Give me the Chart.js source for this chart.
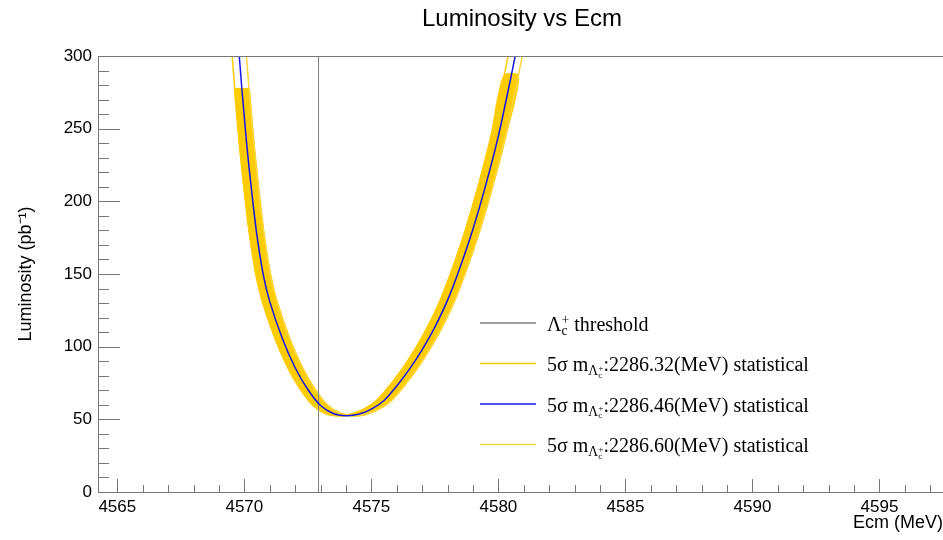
<!DOCTYPE html>
<html lang="en">
<head>
<meta charset="UTF-8">
<title>Luminosity vs Ecm</title>
<script src="https://cdn.jsdelivr.net/npm/chart.js"></script>
<style>
  html, body { margin: 0; padding: 0; background: #fff; }
  canvas { display: block; }
</style>
</head>
<body>
<canvas id="lumiChart" width="943" height="540"></canvas>
<script>
    // luminosity (pb^-1) at each point of the curves, same for the three mass hypotheses
    const lumi = [300, 287, 278, 268, 238, 205, 176, 149, 131, 105.5, 85.5, 70.5, 59.5, 54, 52.5,
                  53.5, 57, 63, 73, 84.5, 98, 113.5, 132, 155, 181, 211, 245, 286, 300];

    // Ecm (MeV) for m = 2286.46
    const ecmMid = [4569.80, 4569.86, 4569.90, 4569.95, 4570.10, 4570.30, 4570.50, 4570.75, 4571.00, 4571.50,
                    4572.00, 4572.50, 4573.00, 4573.50, 4574.00, 4574.50, 4575.00, 4575.50, 4576.00, 4576.50,
                    4577.00, 4577.50, 4578.00, 4578.50, 4579.00, 4579.50, 4580.00, 4580.50, 4580.66];
    // Ecm (MeV) for m = 2286.32
    const ecmLow = [4569.52, 4569.58, 4569.62, 4569.67, 4569.82, 4570.02, 4570.22, 4570.47, 4570.72, 4571.22,
                    4571.72, 4572.22, 4572.72, 4573.22, 4573.72, 4574.22, 4574.72, 4575.22, 4575.72, 4576.22,
                    4576.72, 4577.22, 4577.72, 4578.22, 4578.72, 4579.22, 4579.72, 4580.22, 4580.38];
    // Ecm (MeV) for m = 2286.60
    const ecmHigh = [4570.08, 4570.14, 4570.18, 4570.23, 4570.38, 4570.58, 4570.78, 4571.03, 4571.28, 4571.78,
                     4572.28, 4572.78, 4573.28, 4573.78, 4574.28, 4574.78, 4575.28, 4575.78, 4576.28, 4576.78,
                     4577.28, 4577.78, 4578.28, 4578.78, 4579.28, 4579.78, 4580.28, 4580.78, 4580.94];

    // the statistical band only covers these points of the curves
    const bandFirst = 2;
    const bandLast = 27;

    const thresholdEcm = 4572.92;

    const legendLabels = [
        'Λ_{c}^{+} threshold',
        '5σ m_{Λ_{c}^{+}}:2286.32(MeV) statistical',
        '5σ m_{Λ_{c}^{+}}:2286.46(MeV) statistical',
        '5σ m_{Λ_{c}^{+}}:2286.60(MeV) statistical'
    ];

    const xTicks = { min: 4564.24, max: 4597.5, step: 5, minor: 1 };
    const yTicks = { min: 0, max: 300, step: 50, minor: 10 };

    function pontos(xs) {
        return xs.map((x, i) => ({ x: x, y: lumi[i] }));
    }

    // banda = curva baixa e depois a alta de volta, fechando o contorno
    const banda = pontos(ecmLow).slice(bandFirst, bandLast + 1)
        .concat(pontos(ecmHigh).slice(bandFirst, bandLast + 1).reverse());

    // texto tipo TLatex: _{..} subscrito, ^{..} sobrescrito
    function parseRich(s) {
        const nodes = [];
        let buf = '';
        for (let i = 0; i < s.length; i++) {
            const ch = s[i];
            if ((ch === '_' || ch === '^') && s[i + 1] === '{') {
                if (buf) { nodes.push({ text: buf }); buf = ''; }
                let depth = 0, j = i + 1;
                for (; j < s.length; j++) {
                    if (s[j] === '{') depth++;
                    else if (s[j] === '}' && --depth === 0) break;
                }
                nodes.push({ kind: ch, children: parseRich(s.slice(i + 2, j)) });
                i = j;
            } else {
                buf += ch;
            }
        }
        if (buf) nodes.push({ text: buf });
        return nodes;
    }

    function drawRich(ctx, nodes, x, y, size) {
        let cx = x;
        for (let i = 0; i < nodes.length; i++) {
            const n = nodes[i];
            if (n.text !== undefined) {
                ctx.font = size + 'px "Liberation Serif", "DejaVu Serif", serif';
                ctx.fillText(n.text, cx, y);
                cx += ctx.measureText(n.text).width;
                continue;
            }
            const small = size * 0.68;
            const dy = k => (k === '_' ? size * 0.2 : -size * 0.32);
            let w = drawRich(ctx, n.children, cx, y + dy(n.kind), small);
            const next = nodes[i + 1];
            if (next && next.kind && next.kind !== n.kind) {
                // sub e sup empilhados
                w = Math.max(w, drawRich(ctx, next.children, cx, y + dy(next.kind), small));
                i++;
            }
            cx += w;
        }
        return cx - x;
    }

    const rootFrame = {
        id: 'rootFrame',
        afterDatasetsDraw(chart) {
            const { ctx, chartArea: a, scales: { x, y } } = chart;
            ctx.save();
            ctx.strokeStyle = '#777';
            ctx.lineWidth = 1;
            ctx.beginPath();
            ctx.moveTo(a.left, a.top + 0.5);
            ctx.lineTo(a.right, a.top + 0.5);
            for (let v = y.min; v <= y.max; v += yTicks.minor) {
                const py = Math.round(y.getPixelForValue(v)) + 0.5;
                const len = v % yTicks.step === 0 ? 22 : 11;
                ctx.moveTo(a.left, py);
                ctx.lineTo(a.left + len, py);
            }
            for (let v = Math.ceil(x.min); v <= x.max; v += xTicks.minor) {
                const px = Math.round(x.getPixelForValue(v)) + 0.5;
                const len = v % xTicks.step === 0 ? 13 : 7;
                ctx.moveTo(px, a.bottom);
                ctx.lineTo(px, a.bottom - len);
            }
            ctx.stroke();
            ctx.restore();
        },
        afterDraw(chart) {
            const ctx = chart.ctx;
            ctx.save();
            // titulo
            ctx.fillStyle = '#000';
            ctx.textAlign = 'center';
            ctx.textBaseline = 'alphabetic';
            ctx.font = '24px "Liberation Sans", Arial, sans-serif';
            ctx.fillText('Luminosity vs Ecm', 522, 26);

            // legenda
            ctx.textAlign = 'left';
            let linha = 0;
            chart.data.datasets.forEach(ds => {
                if (!ds.label) return;
                const ly = 323 + linha * 40.5;
                ctx.strokeStyle = ds.borderColor;
                ctx.lineWidth = 1.5;
                ctx.beginPath();
                ctx.moveTo(480, ly);
                ctx.lineTo(536, ly);
                ctx.stroke();
                ctx.fillStyle = '#000';
                drawRich(ctx, parseRich(ds.label), 547, ly + 7.5, 20);
                linha++;
            });
            ctx.restore();
        }
    };

    Chart.defaults.font.family = '"Liberation Sans", Arial, sans-serif';
    Chart.defaults.color = '#000';

    const config = {
        type: 'scatter',
        data: {
            datasets: [
                {
                    label: legendLabels[0],
                    data: [{ x: thresholdEcm, y: yTicks.min }, { x: thresholdEcm, y: yTicks.max }],
                    showLine: true,
                    borderColor: '#808080',
                    borderWidth: 1,
                    pointRadius: 0,
                    order: 1
                },
                {
                    label: legendLabels[1],
                    data: pontos(ecmLow),
                    showLine: true,
                    borderColor: 'rgb(255, 204, 0)',
                    borderWidth: 1.5,
                    pointRadius: 0,
                    tension: 0.3,
                    order: 2
                },
                {
                    label: legendLabels[2],
                    data: pontos(ecmMid),
                    showLine: true,
                    borderColor: 'rgb(20, 20, 235)',
                    borderWidth: 1.5,
                    pointRadius: 0,
                    tension: 0.3,
                    order: 0
                },
                {
                    label: legendLabels[3],
                    data: pontos(ecmHigh),
                    showLine: true,
                    borderColor: 'rgb(255, 214, 60)',
                    borderWidth: 1.5,
                    pointRadius: 0,
                    tension: 0.3,
                    order: 2
                },
                {
                    label: '',
                    data: banda,
                    showLine: true,
                    fill: 'shape',
                    backgroundColor: 'rgb(255, 204, 0)',
                    borderColor: 'rgb(255, 204, 0)',
                    borderWidth: 2,
                    pointRadius: 0,
                    tension: 0.3,
                    order: 3
                }
            ]
        },
        options: {
            responsive: false,
            animation: false,
            devicePixelRatio: 1,
            layout: { padding: { top: 56, right: 0, left: 0, bottom: 0 } },
            plugins: {
                legend: { display: false },
                title: { display: false },
                tooltip: { enabled: false }
            },
            scales: {
                x: {
                    type: 'linear',
                    min: xTicks.min,
                    max: xTicks.max,
                    grid: { drawOnChartArea: false, drawTicks: false },
                    border: { color: '#777', width: 1 },
                    ticks: {
                        stepSize: xTicks.step,
                        includeBounds: false,
                        autoSkip: false,
                        maxRotation: 0,
                        padding: 5,
                        font: { size: 17 },
                        callback: v => String(v)
                    },
                    title: {
                        display: true,
                        text: 'Ecm (MeV)',
                        align: 'end',
                        font: { size: 18 },
                        padding: { top: 0, bottom: 6 }
                    },
                    afterFit: s => { s.height = 48; }
                },
                y: {
                    min: yTicks.min,
                    max: yTicks.max,
                    grid: { drawOnChartArea: false, drawTicks: false },
                    border: { color: '#777', width: 1 },
                    ticks: {
                        stepSize: yTicks.step,
                        padding: 6,
                        font: { size: 17 },
                        callback: v => String(v)
                    },
                    title: {
                        display: true,
                        text: 'Luminosity (pb⁻¹)',
                        font: { size: 18 },
                        padding: { top: 15, bottom: 0 }
                    },
                    afterFit: s => { s.width = 98; }
                }
            }
        },
        plugins: [rootFrame]
    };

    new Chart(document.getElementById('lumiChart'), config);
</script>
</body>
</html>
